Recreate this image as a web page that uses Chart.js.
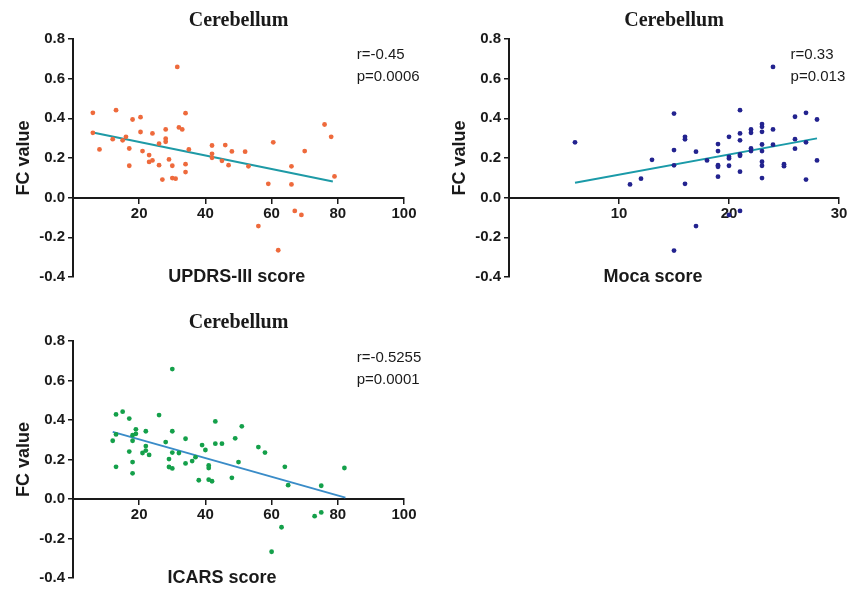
<!DOCTYPE html>
<html>
<head>
<meta charset="utf-8">
<script src="https://cdn.jsdelivr.net/npm/chart.js@4"></script>
<style>
  body { margin: 0; background: #fff; }
  #wrap { position: relative; width: 860px; height: 590px; }
  canvas { position: absolute; }
</style>
</head>
<body>
<div id="wrap">
  <canvas id="c1" width="430" height="295" style="left:0;top:0"></canvas>
  <canvas id="c2" width="430" height="295" style="left:430px;top:0"></canvas>
  <canvas id="c3" width="430" height="290" style="left:0;top:300px"></canvas>
</div>
<script>
// UPDRS-III panel
const updrsX = [6, 6, 8, 12, 13, 15, 16, 17, 17, 18, 20.4, 20.4, 21, 23, 23, 24, 24, 26, 26, 27,
  28, 28, 28, 29, 30, 30, 31, 31.5, 32, 33, 34, 34, 34, 35, 42, 42, 42, 45, 46, 47,
  48, 52, 53, 59, 60.5, 56, 62, 66, 66, 67, 69, 70, 76, 78, 79];
const updrsY = [0.428, 0.327, 0.243, 0.295, 0.441, 0.289, 0.307, 0.248, 0.161, 0.394, 0.406, 0.331, 0.235, 0.215, 0.18, 0.324, 0.188, 0.272, 0.164, 0.091,
  0.344, 0.297, 0.282, 0.193, 0.161, 0.099, 0.096, 0.659, 0.354, 0.344, 0.426, 0.169, 0.129, 0.243, 0.263, 0.221, 0.201, 0.186, 0.265, 0.164,
  0.233, 0.232, 0.158, 0.07, 0.279, -0.143, -0.265, 0.158, 0.067, -0.067, -0.087, 0.235, 0.369, 0.307, 0.107];
const updrsFitX = [6, 78.5];
const updrsFitY = [0.329, 0.081];

// Moca panel
const mocaX = [6, 11, 12, 13, 15, 15, 15, 15, 16, 16, 16, 17, 17, 18, 19, 19, 19, 19, 19, 20,
  20, 20, 20, 20, 21, 21, 21, 21, 21, 21, 21, 22, 22, 22, 22, 23, 23, 23, 23, 23,
  23, 23, 23, 24, 24, 24, 25, 25, 26, 26, 26, 27, 27, 27, 28, 28];
const mocaY = [0.279, 0.067, 0.096, 0.191, 0.424, 0.24, 0.163, -0.267, 0.307, 0.294, 0.07, 0.232, -0.143, 0.188, 0.27, 0.235, 0.164, 0.156, 0.106, 0.307,
  0.206, 0.198, 0.161, -0.087, 0.441, 0.324, 0.289, 0.218, 0.211, 0.131, -0.067, 0.344, 0.327, 0.248, 0.235, 0.371, 0.357, 0.332, 0.268, 0.235,
  0.181, 0.161, 0.099, 0.659, 0.344, 0.267, 0.169, 0.159, 0.408, 0.295, 0.247, 0.428, 0.279, 0.091, 0.394, 0.188];
const mocaFitX = [6, 28];
const mocaFitY = [0.0755, 0.299];

// ICARS panel
const icarsX = [12, 13, 13, 13, 15, 17, 17, 18, 18, 18, 18, 19, 19, 21, 22, 22, 22, 23, 26, 28,
  29, 29, 30, 30, 30, 30, 32, 34, 34, 36, 37, 38, 39, 40, 41, 41, 41, 42, 43, 43,
  45, 48, 49, 50, 51, 56, 58, 60, 63, 64, 65, 73, 75, 75, 82];
const icarsY = [0.295, 0.428, 0.327, 0.163, 0.442, 0.407, 0.24, 0.323, 0.295, 0.187, 0.13, 0.353, 0.33, 0.233, 0.343, 0.268, 0.245, 0.223, 0.425, 0.288,
  0.202, 0.162, 0.658, 0.343, 0.235, 0.155, 0.233, 0.305, 0.18, 0.192, 0.212, 0.095, 0.273, 0.248, 0.17, 0.157, 0.098, 0.09, 0.393, 0.28,
  0.28, 0.107, 0.307, 0.187, 0.368, 0.263, 0.235, -0.267, -0.143, 0.163, 0.07, -0.087, -0.068, 0.067, 0.157];
const icarsFitX = [12, 82.3];
const icarsFitY = [0.34, 0.007];

const yTicks = [-0.4, -0.2, 0, 0.2, 0.4, 0.6, 0.8];

const SANS = "'Liberation Sans', Arial, sans-serif";
const SERIF = "'Liberation Serif', 'Times New Roman', serif";
const INK = "#1a1a1a";

function pts(xs, ys) {
  return xs.map((x, i) => ({ x: x, y: ys[i] }));
}

// draws the panel title, the x title under the plot and the r/p text
const textPlugin = {
  id: "panelText",
  afterDraw(chart) {
    const o = chart.options.plugins.panelText;
    const ctx = chart.ctx;
    const xs = chart.scales.x, ys = chart.scales.y;
    const area = chart.chartArea;
    ctx.save();
    ctx.fillStyle = INK;
    ctx.textBaseline = "middle";

    ctx.textAlign = "center";
    ctx.font = "bold 20px " + SERIF;
    ctx.fillText(o.title, xs.getPixelForValue(o.titleAt), area.top - 18);

    ctx.font = "bold 18px " + SANS;
    ctx.fillText(o.xTitle, xs.getPixelForValue(o.xTitleAt), area.bottom);

    ctx.textAlign = "left";
    ctx.font = "15px " + SANS;
    ctx.fillText(o.r, xs.getPixelForValue(o.noteAt[0]), ys.getPixelForValue(o.noteAt[1]));
    ctx.fillText(o.p, xs.getPixelForValue(o.noteAt[0]), ys.getPixelForValue(o.noteAt[2]));
    ctx.restore();
  }
};

function makePanel(id, cfg) {
  const axisFont = { family: SANS, size: 15, weight: "bold" };
  return new Chart(document.getElementById(id), {
    type: "scatter",
    data: {
      datasets: [
        {
          data: pts(cfg.xs, cfg.ys),
          backgroundColor: cfg.dot,
          borderColor: cfg.dot,
          borderWidth: 0,
          pointRadius: 2.4
        },
        {
          data: pts(cfg.fitX, cfg.fitY),
          showLine: true,
          borderColor: cfg.line,
          borderWidth: 2,
          pointRadius: 0
        }
      ]
    },
    options: {
      responsive: false,
      animation: false,
      layout: { padding: cfg.padding },
      plugins: {
        legend: { display: false },
        tooltip: { enabled: false },
        panelText: cfg.text
      },
      scales: {
        x: {
          type: "linear",
          min: 0,
          max: cfg.xMax,
          position: { y: 0 },
          afterBuildTicks: (s) => { s.ticks = cfg.xTicks.map(v => ({ value: v })); },
          ticks: {
            font: axisFont,
            color: INK,
            padding: 2,
            callback: (v) => (v === 0 ? "" : v)
          },
          grid: { drawOnChartArea: false, drawTicks: true, tickLength: 5, color: INK, lineWidth: 1.5 },
          border: { color: INK, width: 2 }
        },
        y: {
          min: -0.4,
          max: 0.8,
          afterBuildTicks: (s) => { s.ticks = yTicks.map(v => ({ value: v })); },
          afterFit: (s) => { s.width = 65; },
          ticks: {
            font: axisFont,
            color: INK,
            padding: 3,
            callback: (v) => (Math.abs(v) < 1e-9 ? 0 : v).toFixed(1)
          },
          title: { display: true, text: "FC value", font: { family: SANS, size: 18, weight: "bold" }, color: INK, padding: { top: 5, bottom: 0 } },
          grid: { drawOnChartArea: false, drawTicks: true, tickLength: 5, color: INK, lineWidth: 1.5 },
          border: { color: INK, width: 2 }
        }
      }
    },
    plugins: [textPlugin]
  });
}

makePanel("c1", {
  xs: updrsX, ys: updrsY, fitX: updrsFitX, fitY: updrsFitY,
  dot: "#ee6a3c", line: "#1e9aa6",
  xMax: 100, xTicks: [0, 20, 40, 60, 80, 100],
  padding: { left: 8, right: 26, top: 39, bottom: 18 },
  text: { title: "Cerebellum", titleAt: 50, xTitle: "UPDRS-III score", xTitleAt: 49.5,
          r: "r=-0.45", p: "p=0.0006", noteAt: [85.7, 0.718, 0.607] }
});

makePanel("c2", {
  xs: mocaX, ys: mocaY, fitX: mocaFitX, fitY: mocaFitY,
  dot: "#23238f", line: "#1a9aa8",
  xMax: 30, xTicks: [0, 10, 20, 30],
  padding: { left: 14, right: 21, top: 39, bottom: 18 },
  text: { title: "Cerebellum", titleAt: 15, xTitle: "Moca score", xTitleAt: 13.1,
          r: "r=0.33", p: "p=0.013", noteAt: [25.6, 0.718, 0.607] }
});

makePanel("c3", {
  xs: icarsX, ys: icarsY, fitX: icarsFitX, fitY: icarsFitY,
  dot: "#14a04a", line: "#3a8cc8",
  xMax: 100, xTicks: [0, 20, 40, 60, 80, 100],
  padding: { left: 8, right: 26, top: 41, bottom: 9 },
  text: { title: "Cerebellum", titleAt: 50, xTitle: "ICARS score", xTitleAt: 45,
          r: "r=-0.5255", p: "p=0.0001", noteAt: [85.7, 0.713, 0.603] }
});
</script>
</body>
</html>
